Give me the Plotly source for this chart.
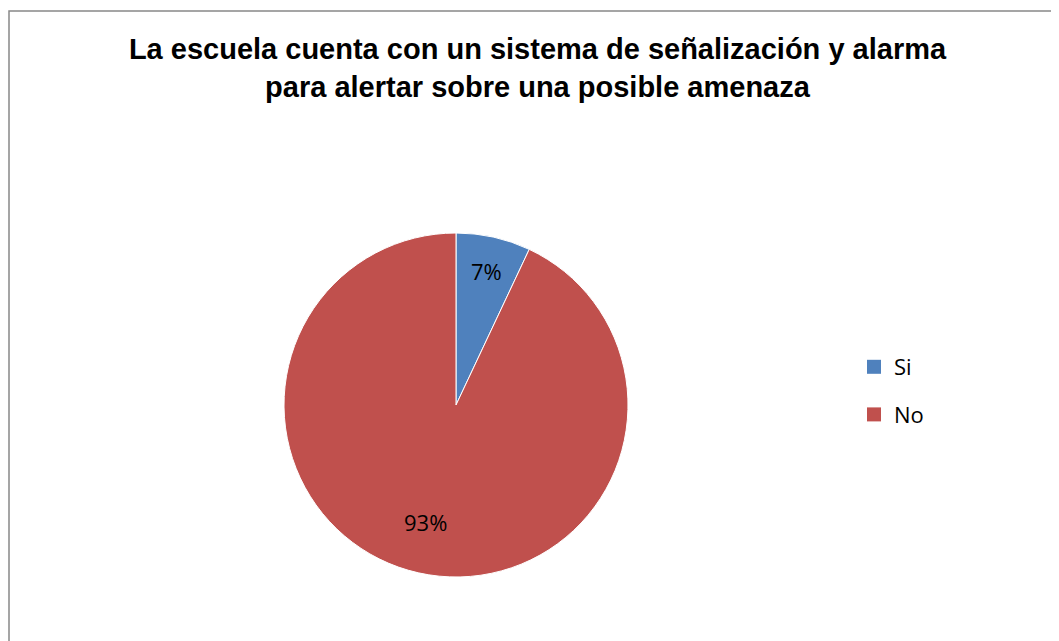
import math
import plotly.graph_objects as go

labels = ["Si", "No"]
values = [7, 93]
colors = ["#4F81BD", "#C0504D"]
title_lines = ["La escuela cuenta con un sistema de señalización y alarma",
               "para alertar sobre una posible amenaza"]

W, H = 1059, 641
OFF = 8  # page body margin in the screenshot
cx, cy, R = 456 - OFF, 405 - OFF, 172
LABEL_FONT = "Open Sans, Liberation Sans, sans-serif"

fig = go.Figure()
fig.add_trace(go.Pie(
    labels=labels, values=values, sort=False, direction="clockwise", rotation=0,
    marker=dict(colors=colors, line=dict(color="white", width=1)),
    textinfo="none", showlegend=False, hoverinfo="label+percent",
    domain=dict(x=[(cx - R) / W, (cx + R) / W], y=[(H - cy - R) / H, (H - cy + R) / H]),
))

# legend entries (one per category)
for lab, col in zip(labels, colors):
    fig.add_trace(go.Scatter(x=[None], y=[None], mode="markers", name=lab, legendgroup=lab,
                             marker=dict(symbol="square", size=14, color=col), hoverinfo="skip"))

# percentage labels positioned from the data
total = sum(values)
annotations = []
cum = 0
for v in values:
    mid = (cum + v / 2) / total * 2 * math.pi
    cum += v
    r = 0.8 * R
    px = cx + r * math.sin(mid)
    py = cy - r * math.cos(mid)
    annotations.append(dict(x=px / W, y=1 - py / H, xref="paper", yref="paper",
                            text=f"{round(100 * v / total)}%", showarrow=False,
                            font=dict(family=LABEL_FONT, size=22, color="black")))

fig.update_layout(
    width=W, height=H, margin=dict(l=0, r=0, t=0, b=0),
    paper_bgcolor="white", plot_bgcolor="white",
    xaxis=dict(visible=False), yaxis=dict(visible=False),
    title=dict(text="<b>" + "<br>".join(title_lines) + "</b>", x=(537.5 - OFF) / W, xanchor="center",
               y=1 - (59 - OFF) / H, yanchor="middle",
               font=dict(family="Arial, 'Liberation Sans', sans-serif", size=29, color="black")),
    legend=dict(x=(875 - OFF - 21) / W, y=1 - (391 - OFF) / H, xanchor="left", yanchor="middle",
                font=dict(family=LABEL_FONT, size=22, color="black"),
                tracegroupgap=16, bgcolor="rgba(0,0,0,0)"),
    annotations=annotations,
    shapes=[dict(type="rect", xref="paper", yref="paper", x0=(9 - OFF) / W, x1=1.02, y0=-0.02,
                 y1=1 - (11 - OFF) / H, line=dict(color="#888888", width=1.5))],
)

fig.write_html("out.html")
